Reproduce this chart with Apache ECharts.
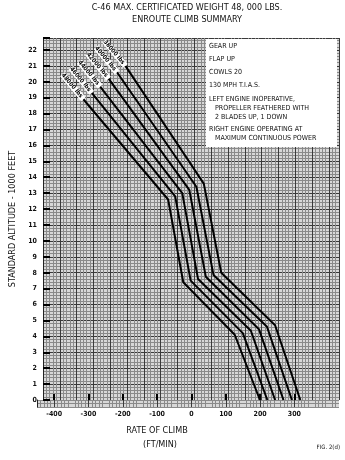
<!DOCTYPE html>
<html><head><meta charset="utf-8">
<script src="https://cdn.jsdelivr.net/npm/echarts@6/dist/echarts.min.js"></script>
<style>html,body{margin:0;padding:0;background:#fff}#c{width:345px;height:460px}</style>
</head><body><div id="c"></div><script>
// Weights (labels at the top of each curve)
const weights = ['48000 lbs','46000 lbs','44000 lbs','42000 lbs','40000 lbs','38000 lbs'];
// [rate of climb ft/min, altitude 1000 ft], from the top of the curve downward
const climb48 = [[-330,18.9],[-78,12.6],[-33,7.4],[120,4.1],[195,0]];
const climb46 = [[-305,19.3],[-57,12.8],[-11,7.5],[144,4.2],[217,0]];
const climb44 = [[-280,19.7],[-36,13.0],[11,7.6],[168,4.35],[240,0]];
const climb42 = [[-255,20.2],[-15,13.2],[34,7.75],[192,4.45],[265,0]];
const climb40 = [[-230,20.6],[6,13.4],[57,7.85],[216,4.6],[290,0]];
const climb38 = [[-205,21.0],[28,13.6],[80,8.0],[240,4.7],[315,0]];
const curves = [climb48, climb46, climb44, climb42, climb40, climb38];
const xTicks = [-400,-300,-200,-100,0,100,200,300];
const yTicks = [0,1,2,3,4,5,6,7,8,9,10,11,12,13,14,15,16,17,18,19,20,21,22];
const notes = ['GEAR UP','FLAP UP','COWLS 20','130 MPH T.I.A.S.','LEFT ENGINE INOPERATIVE,','   PROPELLER FEATHERED WITH','   2 BLADES UP, 1 DOWN','RIGHT ENGINE OPERATING AT','   MAXIMUM CONTINUOUS POWER'];

const FONT = "'Liberation Sans Narrow','DejaVu Sans Condensed',sans-serif";
const X_MIN = -450, X_MAX = 430, Y_MAX = 22.75;
const minorC = '#8a8a8a', majorC = '#3a3a3a';

const chart = echarts.init(document.getElementById('c'), null, {renderer:'canvas'});

const noteY = [47,60,73,86,100,109,118,130,139];
const graphics = [
  {type:'text', x:187, y:3, style:{text:'C-46 MAX. CERTIFICATED WEIGHT 48, 000 LBS.', font:'9px '+FONT, fill:'#111', align:'center'}},
  {type:'text', x:187, y:15, style:{text:'ENROUTE CLIMB SUMMARY', font:'9px '+FONT, fill:'#111', align:'center'}},
  {type:'rect', shape:{x:206, y:39, width:131, height:108}, style:{fill:'#fff'}, z:10},
  {type:'text', x:157, y:426, style:{text:'RATE OF CLIMB', font:'9px '+FONT, fill:'#111', align:'center'}},
  {type:'text', x:160, y:440, style:{text:'(FT/MIN)', font:'9px '+FONT, fill:'#111', align:'center'}},
  {type:'text', x:340, y:444, style:{text:'FIG. 2(d)', font:'6px '+FONT, fill:'#111', align:'right'}}
];
notes.forEach((t,i)=>graphics.push({type:'text', x:209, y:noteY[i]-4, z:11, style:{text:t, font:'7px '+FONT, fill:'#111'}}));

const series = curves.map((arr,k)=>({
  type:'line', xAxisIndex:0, yAxisIndex:0, symbol:'circle', symbolSize:0.1, showSymbol:true,
  lineStyle:{color:'#000', width:2}, itemStyle:{color:'#000'}, animation:false, z:5,
  data: arr.map((p,i)=> i===0 ? {value:p, label:{show:true, formatter:weights[k], position:'inside', rotate:-50, align:'right', verticalAlign:'middle', padding:[0,3,0,0], fontSize:6, fontFamily:FONT, fontWeight:'bold', color:'#000', backgroundColor:'#fff'}} : {value:p, label:{show:false}})
}));

chart.setOption({
  animation:false,
  backgroundColor:'#fff',
  graphic: graphics,
  grid:[
    {left:37, right:6, top:38, bottom:60, show:true, backgroundColor:'#d8d8d8', borderWidth:0},
    {left:37, right:6, top:400, height:7, show:true, backgroundColor:'#d8d8d8', borderWidth:0}
  ],
  xAxis:[
    {type:'value', gridIndex:0, min:X_MIN, max:X_MAX, interval:50, axisLine:{show:false}, axisTick:{show:false}, axisLabel:{show:false},
     splitLine:{show:true, lineStyle:{color:majorC, width:1}}, minorTick:{show:false, splitNumber:5}, minorSplitLine:{show:true, lineStyle:{color:minorC, width:1}}},
    {type:'value', gridIndex:1, min:X_MIN, max:X_MAX, interval:50, position:'bottom', axisLine:{show:false},
     axisTick:{show:true, inside:true, length:6, customValues:xTicks, lineStyle:{color:'#000', width:2}},
     axisLabel:{show:true, customValues:xTicks, fontSize:7, fontFamily:FONT, fontWeight:'bold', color:'#111', margin:4},
     splitLine:{show:true, lineStyle:{color:majorC, width:1}}, minorTick:{show:false, splitNumber:5}, minorSplitLine:{show:true, lineStyle:{color:minorC, width:1}}}
  ],
  yAxis:[
    {type:'value', gridIndex:0, min:0, max:Y_MAX, interval:1, axisLine:{show:true, onZero:false, lineStyle:{color:'#222', width:1}},
     axisTick:{show:true, inside:true, length:7, lineStyle:{color:'#000', width:2}},
     axisLabel:{show:true, customValues:yTicks, fontSize:7, fontFamily:FONT, fontWeight:'bold', color:'#111', margin:6},
     name:'STANDARD ALTITUDE - 1000 FEET', nameLocation:'middle', nameGap:26, nameRotate:90, nameTextStyle:{fontSize:9, fontFamily:FONT, color:'#111'},
     splitLine:{show:true, lineStyle:{color:majorC, width:1}}, minorTick:{show:false, splitNumber:5}, minorSplitLine:{show:true, lineStyle:{color:minorC, width:1}}},
    {type:'value', gridIndex:1, min:-0.4, max:0, interval:0.2, axisLine:{show:true, onZero:false, lineStyle:{color:'#222'}}, axisTick:{show:false}, axisLabel:{show:false},
     splitLine:{show:true, lineStyle:{color:minorC, width:1}}}
  ],
  series: series
});
</script></body></html>
